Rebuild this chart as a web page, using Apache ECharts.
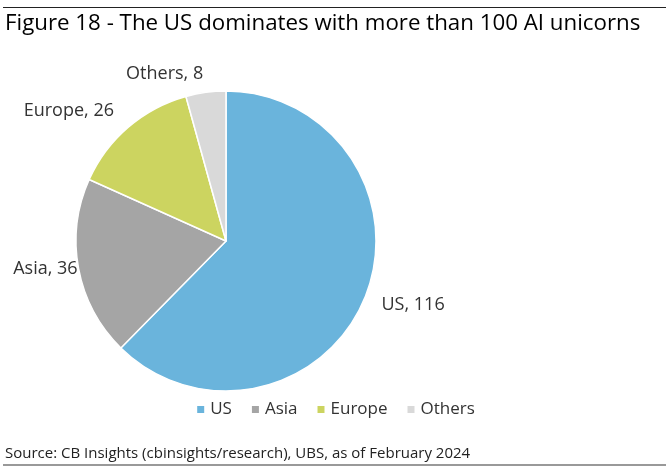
<!DOCTYPE html>
<html>
<head>
<meta charset="utf-8">
<script src="https://cdn.jsdelivr.net/npm/echarts@6/dist/echarts.min.js"></script>
<style>
html,body{margin:0;padding:0;background:#fff;}
#c{width:670px;height:473px;}
</style>
</head>
<body>
<div id="c"></div>
<script>
const categories = ['US', 'Asia', 'Europe', 'Others'];
const values = [116, 36, 26, 8];
const colors = ['#6ab4dc', '#a5a5a5', '#ccd460', '#d9d9d9'];
const labelGaps = [18, 1, 22, 19];
const titleText = 'Figure 18 - The US dominates with more than 100 AI unicorns';
const sourceText = 'Source: CB Insights (cbinsights/research), UBS, as of February 2024';

const chart = echarts.init(document.getElementById('c'), null, {renderer: 'canvas'});
const font = '"Open Sans", "Noto Sans", sans-serif';
chart.setOption({
  animation: false,
  backgroundColor: '#fff',
  title: [{
    text: titleText,
    left: 0,
    top: 8,
    textStyle: {fontFamily: font, fontSize: 22.3, fontWeight: 'normal', color: '#000'}
  }, {
    text: sourceText,
    left: 0,
    top: 441,
    textStyle: {fontFamily: font, fontSize: 15, fontWeight: 'normal', color: '#222'}
  }],
  graphic: [
    {type: 'line', shape: {x1: 3, y1: 7.5, x2: 666, y2: 7.5}, style: {stroke: '#222', lineWidth: 1.2}},
    {type: 'line', shape: {x1: 3, y1: 465, x2: 666, y2: 465}, style: {stroke: '#999', lineWidth: 2}}
  ],
  legend: {
    data: categories,
    left: 'center',
    top: 396,
    itemWidth: 9,
    itemHeight: 9,
    itemGap: 18,
    icon: 'rect',
    textStyle: {fontFamily: font, fontSize: 17, color: '#333'}
  },
  series: [{
    type: 'pie',
    center: [226, 241],
    radius: [0, 150],
    startAngle: 90,
    clockwise: true,
    avoidLabelOverlap: false,
    itemStyle: {borderColor: '#fff', borderWidth: 1.5},
    label: {
      show: true,
      position: 'outside',
      formatter: '{b}, {c}',
      fontFamily: font,
      fontSize: 18,
      color: '#333',
      distanceToLabelLine: 0
    },
    labelLine: {show: false, length: 12, length2: 0},
    data: categories.map((n, i) => ({
      name: n, value: values[i],
      itemStyle: {color: colors[i]},
      labelLine: {show: false, length: labelGaps[i], length2: 0}
    }))
  }]
});
</script>
</body>
</html>
